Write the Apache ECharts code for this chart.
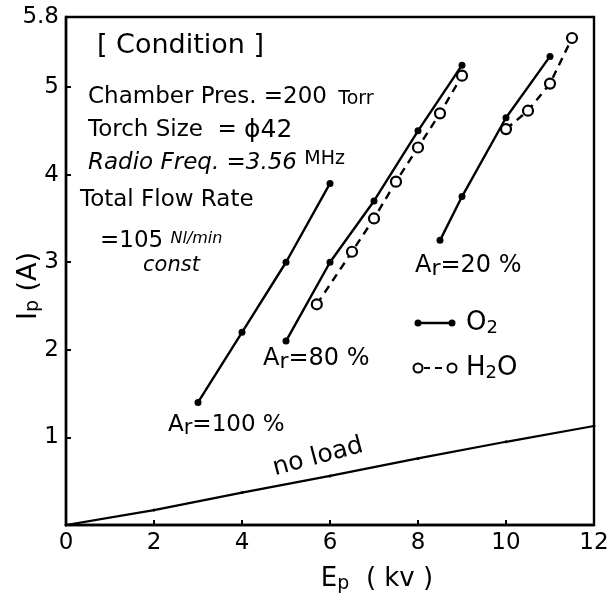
<!DOCTYPE html>
<html>
<head>
<meta charset="utf-8">
<script src="https://cdn.jsdelivr.net/npm/echarts@6/dist/echarts.min.js"></script>
<style>
html,body{margin:0;padding:0;background:#fff;}
#chart{width:610px;height:601px;}
</style>
</head>
<body>
<div id="chart"></div>
<script>
// ---- data ----
var o2_ar100_x = [3, 4, 5, 6];
var o2_ar100_y = [1.4, 2.2, 3.0, 3.9];
var o2_ar80_x = [5, 6, 7, 8, 9];
var o2_ar80_y = [2.1, 3.0, 3.7, 4.5, 5.25];
var o2_ar20_x = [8.5, 9, 10, 11];
var o2_ar20_y = [3.25, 3.75, 4.65, 5.35];
var h2o_ar80_x = [5.7, 6.5, 7, 7.5, 8, 8.5, 9];
var h2o_ar80_y = [2.52, 3.12, 3.5, 3.92, 4.31, 4.7, 5.13];
var h2o_ar20_x = [10, 10.5, 11, 11.5];
var h2o_ar20_y = [4.52, 4.73, 5.04, 5.56];
var noload_x = [0, 2, 4, 6, 8, 10, 12];
var noload_y = [0, 0.17, 0.37, 0.56, 0.76, 0.95, 1.13];
var xTicks = [0, 2, 4, 6, 8, 10, 12];
var yTickLabels = [1, 2, 3, 4, 5, 5.8];
var yTicks = [1, 2, 3, 4, 5];

function pairs(xs, ys) { return xs.map(function (x, i) { return [x, ys[i]]; }); }

var FONT = 'DejaVu Sans';
var COND = 'DejaVu Sans';
var chart = echarts.init(document.getElementById('chart'), null, {renderer: 'canvas'});

function o2Series(name, xs, ys) {
  return {
    name: name, type: 'line', data: pairs(xs, ys),
    symbol: 'circle', symbolSize: 7,
    lineStyle: {color: '#000', width: 2.4},
    itemStyle: {color: '#000'},
    animation: false, z: 3
  };
}
function h2oSeries(name, xs, ys) {
  return {
    name: name, type: 'line', data: pairs(xs, ys),
    symbol: 'circle', symbolSize: 10,
    lineStyle: {color: '#000', width: 2.4, type: [8, 6]},
    itemStyle: {color: '#fff', borderColor: '#000', borderWidth: 2.2},
    animation: false, z: 4
  };
}

var option = {
  animation: false,
  backgroundColor: '#fff',
  grid: {left: 66, right: 16, top: 17, bottom: 76, show: true, borderColor: '#000', borderWidth: 2.4,
    containLabel: false, outerBoundsMode: 'none'},
  xAxis: {
    type: 'value', min: 0, max: 12, interval: 2,
    axisLine: {show: true, lineStyle: {color: '#000', width: 2.4}},
    axisTick: {show: true, inside: true, length: 5, lineStyle: {color: '#000', width: 2}},
    axisLabel: {color: '#000', fontSize: 23, fontFamily: FONT, margin: 7},
    splitLine: {show: false},
    name: 'E{s|p}  ( kv )',
    nameLocation: 'middle', nameGap: 40, nameMoveOverlap: false,
    nameTextStyle: {color: '#000', fontSize: 26, fontFamily: FONT, padding: [0, 0, 0, 94],
      rich: {s: {fontSize: 19, fontFamily: FONT, padding: [10, 0, 0, 0]}}}
  },
  yAxis: {
    type: 'value', min: 0, max: 5.8, interval: 1,
    axisLine: {show: true, lineStyle: {color: '#000', width: 2.4}},
    axisTick: {show: true, inside: true, length: 5, customValues: yTicks, lineStyle: {color: '#000', width: 2}},
    axisLabel: {color: '#000', fontSize: 23, fontFamily: FONT, margin: 7, customValues: yTickLabels,
      formatter: function (v) { return String(v); }},
    splitLine: {show: false},
    name: 'I{s|p} (A)',
    nameLocation: 'middle', nameGap: 23, nameRotate: 90, nameMoveOverlap: false,
    nameTextStyle: {color: '#000', fontSize: 27, fontFamily: FONT, padding: [0, 30, 0, 0],
      rich: {s: {fontSize: 19, fontFamily: FONT, padding: [10, 0, 0, 0]}}}
  },
  series: [
    {
      name: 'no load', type: 'line', data: pairs(noload_x, noload_y),
      symbol: 'circle', symbolSize: 3, showSymbol: true,
      lineStyle: {color: '#000', width: 2.2}, itemStyle: {color: '#000'}, z: 2
    },
    o2Series('O2 Ar=100%', o2_ar100_x, o2_ar100_y),
    o2Series('O2 Ar=80%', o2_ar80_x, o2_ar80_y),
    o2Series('O2 Ar=20%', o2_ar20_x, o2_ar20_y),
    h2oSeries('H2O Ar=80%', h2o_ar80_x, h2o_ar80_y),
    h2oSeries('H2O Ar=20%', h2o_ar20_x, h2o_ar20_y)
  ],
  graphic: [
    // condition block
    {type: 'text', left: 97, top: 32, style: {text: '[ Condition ]', font: '27px ' + COND, fill: '#000'}},
    {type: 'text', left: 88, top: 86, style: {text: 'Chamber Pres. =200 {t|Torr}', font: '23px ' + COND, fill: '#000',
      rich: {t: {font: '19px ' + COND, fill: '#000', padding: [3, 0, 0, 4]}}}},
    {type: 'text', left: 88, top: 118, style: {text: 'Torch Size  = {b|\u03d542}', font: '23px ' + COND, fill: '#000',
      rich: {b: {font: '25px ' + COND, fill: '#000'}}}},
    {type: 'text', left: 88, top: 150, style: {text: 'Radio Freq. =3.56 {t|MHz}', font: 'italic 23px ' + COND, fill: '#000',
      rich: {t: {font: '19px ' + COND, fill: '#000', padding: [0, 0, 8, 0]}}}},
    {type: 'text', left: 80, top: 189, style: {text: 'Total Flow Rate', font: '23px ' + COND, fill: '#000'}},
    {type: 'text', left: 100, top: 230, style: {text: '=105 {t|Nl/min}', font: '23px ' + COND, fill: '#000',
      rich: {t: {font: 'italic 16px ' + COND, fill: '#000', padding: [0, 0, 6, 0]}}}},
    {type: 'text', left: 143, top: 255, style: {text: 'const', font: 'italic 21px ' + COND, fill: '#000'}},
    // series annotations
    {type: 'text', left: 168, top: 414, style: {text: 'A{r|r}=100 %', font: '23px ' + FONT, fill: '#000',
      rich: {r: {font: '21px ' + FONT, fill: '#000', padding: [6, 0, 0, 0]}}}},
    {type: 'text', left: 263, top: 347, style: {text: 'A{r|r}=80 %', font: '24px ' + FONT, fill: '#000',
      rich: {r: {font: '22px ' + FONT, fill: '#000', padding: [6, 0, 0, 0]}}}},
    {type: 'text', left: 415, top: 254, style: {text: 'A{r|r}=20 %', font: '24px ' + FONT, fill: '#000',
      rich: {r: {font: '22px ' + FONT, fill: '#000', padding: [6, 0, 0, 0]}}}},
    {type: 'text', x: 318, y: 457, rotation: 0.26,
      style: {text: 'no load', font: '25px ' + FONT, fill: '#000', align: 'center', verticalAlign: 'middle'}},
    // legend
    {type: 'group', x: 0, y: 0, children: [
      {type: 'line', shape: {x1: 418, y1: 323, x2: 452, y2: 323}, style: {stroke: '#000', lineWidth: 2.4}},
      {type: 'circle', shape: {cx: 418, cy: 323, r: 3.5}, style: {fill: '#000'}},
      {type: 'circle', shape: {cx: 452, cy: 323, r: 3.5}, style: {fill: '#000'}},
      {type: 'text', x: 466, y: 323, style: {text: 'O{s|2}', font: '26px ' + FONT, fill: '#000', verticalAlign: 'middle',
        rich: {s: {font: '18px ' + FONT, fill: '#000', padding: [11, 0, 0, 0]}}}}
    ]},
    {type: 'group', x: 0, y: 0, children: [
      {type: 'line', shape: {x1: 424, y1: 368, x2: 430, y2: 368}, style: {stroke: '#000', lineWidth: 2}},
      {type: 'line', shape: {x1: 435, y1: 368, x2: 442, y2: 368}, style: {stroke: '#000', lineWidth: 2}},
      {type: 'circle', shape: {cx: 418, cy: 368, r: 4.5}, style: {fill: '#fff', stroke: '#000', lineWidth: 2}},
      {type: 'circle', shape: {cx: 452, cy: 368, r: 4.5}, style: {fill: '#fff', stroke: '#000', lineWidth: 2}},
      {type: 'text', x: 466, y: 368, style: {text: 'H{s|2}O', font: '26px ' + FONT, fill: '#000', verticalAlign: 'middle',
        rich: {s: {font: '18px ' + FONT, fill: '#000', padding: [11, 0, 0, 0]}}}}
    ]}
  ]
};
chart.setOption(option);
</script>
</body>
</html>
